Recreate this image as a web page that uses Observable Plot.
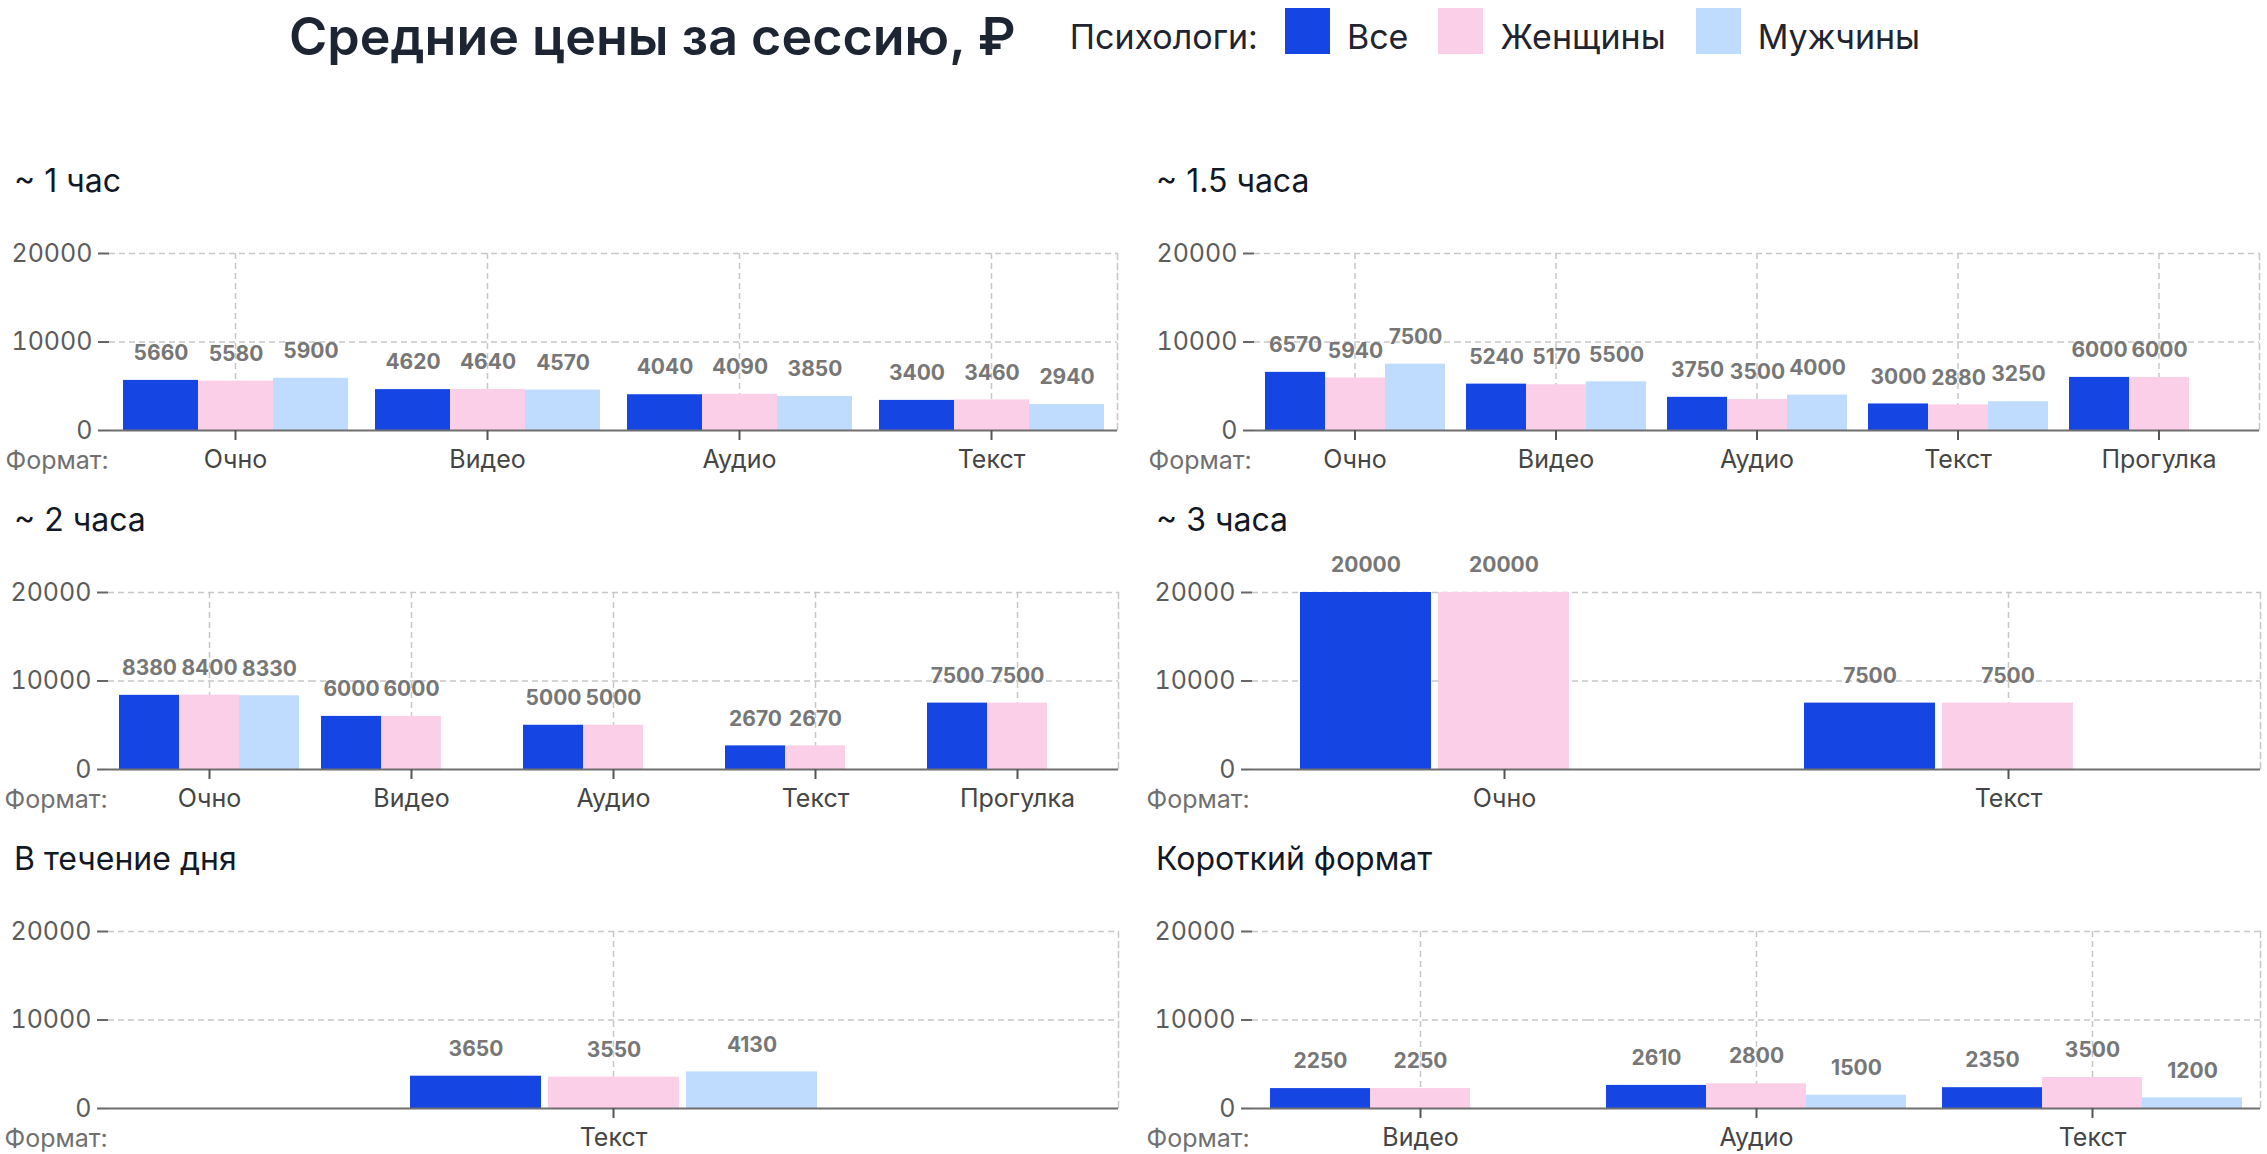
<!DOCTYPE html>
<html lang="ru">
<head>
<meta charset="utf-8">
<script src="https://cdn.jsdelivr.net/npm/d3@7"></script>
<script src="https://cdn.jsdelivr.net/npm/@observablehq/plot@0.6"></script>
<style>
  html, body { margin: 0; padding: 0; background: #fff; }
  body { width: 2267px; height: 1154px; overflow: hidden; font-family: Inter, "Noto Sans", sans-serif; position: relative; }
  #header { position: absolute; left: 289px; top: 0; height: 72px; display: flex; align-items: center; white-space: nowrap; }
  #title { font-size: 52px; font-weight: 600; color: #1e2532; margin-right: 54px; }
  #legend { display: flex; align-items: center; font-size: 34px; color: #1f2430; }
  #legend .sw { width: 45px; height: 46px; display: inline-block; position: relative; top: -5px; }
  #legend .lab { margin-left: 17px; margin-right: 30px; }
  #legend .lead { margin-right: 27px; }
  #grid { position: absolute; left: 0; top: 136px; display: grid; grid-template-columns: 1142px 1125px; }
  .panel-title { height: 77px; box-sizing: border-box; padding-top: 29px; padding-left: 14px; font-size: 32px; line-height: 32px; font-weight: 400; color: #121826; }
  .panel svg { display: block; }
  g[aria-label="value-labels"] { filter: drop-shadow(0px 4px 5px rgba(0, 0, 0, 0.2)); }
</style>
</head>
<body>
<div id="header"></div>
<div id="grid"></div>
<script>
// Series order and colours
const genders = ["Все", "Женщины", "Мужчины"];
const genderColors = ["#1546e4", "#fbcfe8", "#bfdbfe"];
const legendLead = "Психологи:";
const chartTitle = "Средние цены за сессию, ₽";
const formatLabel = "Формат:";
const yTicks = [0, 10000, 20000];

// ~ 1 час
const hour1Formats = ["Очно", "Видео", "Аудио", "Текст"];
const hour1All = [5660, 4620, 4040, 3400];
const hour1Women = [5580, 4640, 4090, 3460];
const hour1Men = [5900, 4570, 3850, 2940];

// ~ 1.5 часа
const hour15Formats = ["Очно", "Видео", "Аудио", "Текст", "Прогулка"];
const hour15All = [6570, 5240, 3750, 3000, 6000];
const hour15Women = [5940, 5170, 3500, 2880, 6000];
const hour15Men = [7500, 5500, 4000, 3250, null];

// ~ 2 часа
const hour2Formats = ["Очно", "Видео", "Аудио", "Текст", "Прогулка"];
const hour2All = [8380, 6000, 5000, 2670, 7500];
const hour2Women = [8400, 6000, 5000, 2670, 7500];
const hour2Men = [8330, null, null, null, null];

// ~ 3 часа
const hour3Formats = ["Очно", "Текст"];
const hour3All = [20000, 7500];
const hour3Women = [20000, 7500];
const hour3Men = [null, null];

// В течение дня
const dayFormats = ["Текст"];
const dayAll = [3650];
const dayWomen = [3550];
const dayMen = [4130];

// Короткий формат
const shortFormats = ["Видео", "Аудио", "Текст"];
const shortAll = [2250, 2610, 2350];
const shortWomen = [2250, 2800, 3500];
const shortMen = [null, 1500, 1200];

const panels = [
  {title: "~ 1 час", formats: hour1Formats, series: [hour1All, hour1Women, hour1Men]},
  {title: "~ 1.5 часа", formats: hour15Formats, series: [hour15All, hour15Women, hour15Men]},
  {title: "~ 2 часа", formats: hour2Formats, series: [hour2All, hour2Women, hour2Men]},
  {title: "~ 3 часа", formats: hour3Formats, series: [hour3All, hour3Women, hour3Men]},
  {title: "В течение дня", formats: dayFormats, series: [dayAll, dayWomen, dayMen]},
  {title: "Короткий формат", formats: shortFormats, series: [shortAll, shortWomen, shortMen]}
];

// Header: title and legend
const header = document.getElementById("header");
const titleEl = document.createElement("div");
titleEl.id = "title";
titleEl.textContent = chartTitle;
header.appendChild(titleEl);
const legend = document.createElement("div");
legend.id = "legend";
const lead = document.createElement("span");
lead.className = "lead";
lead.textContent = legendLead;
legend.appendChild(lead);
genders.forEach((g, i) => {
  const sw = document.createElement("span");
  sw.className = "sw";
  sw.style.background = genderColors[i];
  legend.appendChild(sw);
  const lab = document.createElement("span");
  lab.className = "lab";
  lab.textContent = g;
  legend.appendChild(lab);
});
header.appendChild(legend);

// Bars inside a format group fill 90% of the band, but a slot never exceeds MAX_SLOT px
const MAX_SLOT = 138;
const BAR_GAP = 7;
function groupPadding(plotWidth, n) {
  const band = plotWidth / n;
  const natural = band * 0.9 / genders.length;
  if (natural <= MAX_SLOT) {
    return {paddingInner: 0, paddingOuter: (band / natural - genders.length) / 2};
  }
  const pi = BAR_GAP / MAX_SLOT;
  return {paddingInner: pi, paddingOuter: (band / MAX_SLOT - genders.length + pi) / 2};
}

function panelChart(p, col) {
  const width = col === 0 ? 1142 : 1125;
  const marginLeft = col === 0 ? 108 : 110;
  const marginRight = col === 0 ? 24 : 7;
  const plotWidth = width - marginLeft - marginRight;
  const rows = [];
  p.formats.forEach((f, i) => {
    p.series.forEach((s, g) => {
      if (s[i] != null) rows.push({format: f, gender: genders[g], value: s[i]});
    });
  });
  const pad = groupPadding(plotWidth, p.formats.length);
  const gridStyle = {stroke: "#c8c8c8", strokeOpacity: 1, strokeWidth: 1.5, strokeDasharray: "6,4"};
  return Plot.plot({
    width,
    height: 262,
    marginTop: 40,
    marginBottom: 45,
    marginLeft,
    marginRight,
    style: {fontFamily: "Inter, sans-serif", fontSize: "25px", background: "transparent", overflow: "visible"},
    fx: {domain: p.formats, padding: 0, axis: null, label: null},
    x: {domain: genders, axis: null, paddingInner: pad.paddingInner, paddingOuter: pad.paddingOuter},
    y: {domain: [0, 20000], axis: null},
    color: {domain: genders, range: genderColors},
    marks: [
      Plot.gridY(yTicks.filter((t) => t > 0), gridStyle),
      Plot.gridFx(gridStyle),
      Plot.frame({anchor: "right", facetAnchor: "right", ...gridStyle}),
      Plot.barY(rows, {fx: "format", x: "gender", y: "value", fill: "gender"}),
      Plot.ruleY([0], {stroke: "#6e6e6e", strokeWidth: 2}),
      Plot.axisY({ticks: yTicks, tickFormat: (d) => String(d), tickSize: 11, tickPadding: 6, line: true,
        stroke: "#666", strokeWidth: 2, fill: "#5c5c5c", fontSize: 25, label: null}),
      Plot.axisFx({anchor: "bottom", tickSize: 10, tickPadding: 10, stroke: "#555", strokeWidth: 2,
        fill: "#454545", fontSize: 25, label: null}),
      Plot.text(rows, {fx: "format", x: "gender", y: "value", text: (d) => String(d.value), dy: -27,
        fill: "#777777", fontWeight: 700, fontSize: 21, ariaLabel: "value-labels"}),
      Plot.text([p.formats[0]], {fx: (d) => d, text: () => formatLabel, frameAnchor: "bottom-left",
        textAnchor: "start", dx: -(marginLeft - 4), dy: 38, fill: "#707070", fontSize: 25})
    ]
  });
}

const grid = document.getElementById("grid");
panels.forEach((p, i) => {
  const cell = document.createElement("div");
  cell.className = "panel";
  const t = document.createElement("div");
  t.className = "panel-title";
  t.textContent = p.title;
  cell.appendChild(t);
  cell.appendChild(panelChart(p, i % 2));
  grid.appendChild(cell);
});
</script>
</body>
</html>
